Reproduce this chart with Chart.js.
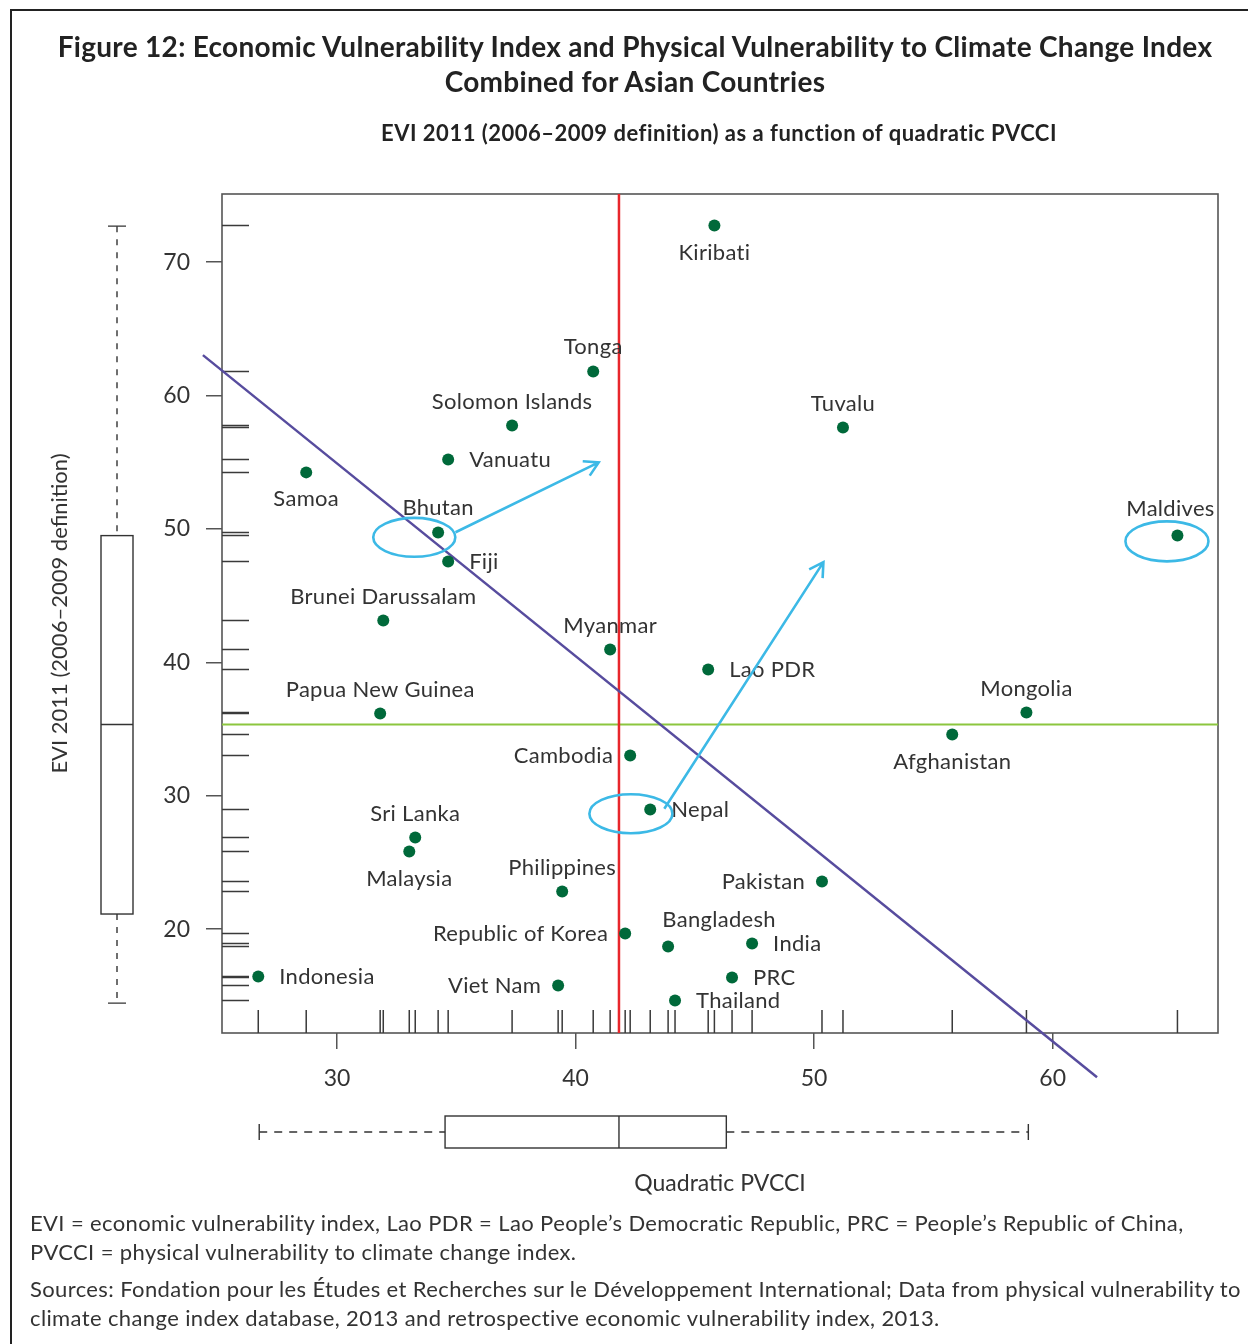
<!DOCTYPE html>
<html>
<head>
<meta charset="utf-8">
<script src="https://cdn.jsdelivr.net/npm/chart.js@4.4.1/dist/chart.umd.min.js"></script>
<style>
  html, body { margin: 0; padding: 0; background: #ffffff; }
  body { width: 1248px; height: 1344px; position: relative; overflow: hidden; font-family: Lato, "Open Sans", sans-serif; color: #333333; }
  #frame { position: absolute; left: 10px; top: 9px; width: 1300px; height: 1400px; border-top: 2px solid #222; border-left: 2px solid #222; box-sizing: border-box; }
  #chart { position: absolute; left: 0; top: 0; }
  .txt { position: absolute; white-space: nowrap; }
  #title { left: 0; width: 1270px; top: 29px; text-align: center; font-weight: 700; font-size: 28px; letter-spacing: 0.3px; line-height: 35px; color: #222; }
  #subtitle { left: 219px; width: 1000px; top: 120px; text-align: center; font-weight: 700; font-size: 22px; letter-spacing: 0.5px; line-height: 26px; color: #222; }
  .note { left: 30px; font-size: 22px; letter-spacing: 0.38px; line-height: 29px; color: #333; }
</style>
</head>
<body>
<div id="frame"></div>
<canvas id="chart" width="1248" height="1344"></canvas>
<div id="title" class="txt">Figure 12: Economic Vulnerability Index and Physical Vulnerability to Climate Change Index<br>Combined for Asian Countries</div>
<div id="subtitle" class="txt">EVI 2011 (2006–2009 definition) as a function of quadratic PVCCI</div>
<div class="txt note" style="top:1208px">EVI = economic vulnerability index, Lao PDR = Lao People’s Democratic Republic, PRC = People’s Republic of China,<br>PVCCI = physical vulnerability to climate change index.</div>
<div class="txt note" style="top:1274px">Sources: Fondation pour les Études et Recherches sur le Développement International; Data from physical vulnerability to<br>climate change index database, 2013 and retrospective economic vulnerability index, 2013.</div>
<script>
// ---------------- data ----------------
const countries = ['Kiribati','Tonga','Solomon Islands','Tuvalu','Vanuatu','Samoa','Bhutan','Maldives','Fiji',
  'Brunei Darussalam','Myanmar','Lao PDR','Papua New Guinea','Mongolia','Afghanistan','Cambodia','Nepal',
  'Sri Lanka','Malaysia','Pakistan','Philippines','Republic of Korea','Bangladesh','India','Indonesia','PRC',
  'Viet Nam','Thailand'];
const pvcci = [45.82, 40.74, 37.34, 51.21, 34.66, 28.71, 34.24, 65.23, 34.66,
  31.94, 41.45, 45.56, 31.81, 58.90, 55.79, 42.29, 43.13,
  33.28, 33.03, 50.33, 39.44, 42.08, 43.88, 47.40, 26.70, 46.56,
  39.27, 44.17];
const evi = [72.75, 61.81, 57.76, 57.61, 55.21, 54.24, 49.74, 49.51, 47.56,
  43.14, 40.96, 39.46, 36.16, 36.24, 34.59, 33.02, 28.97,
  26.87, 25.82, 23.57, 22.82, 19.67, 18.70, 18.92, 16.45, 16.37,
  15.77, 14.65];
// where each label sits relative to its point
const labelSide = ['below','above','above','above','right','below','above','aboveLeft','right',
  'above','above','right','above','above','below','left','right',
  'above','below','left','above','left','aboveRight','right','right','right',
  'left','right'];

const xTicks = [30, 40, 50, 60];
const yTicks = [20, 30, 40, 50, 60, 70];
const xRange = [25.18, 66.93];
const yRange = [12.21, 75.11];

const medianPVCCI = 41.82;
const medianEVI = 35.34;
const fitLineX = [24.38, 61.86];
const fitLineY = [63.03, 8.89];

// boxplot five-number summaries: [low whisker, Q1, median, Q3, high whisker]
const boxPVCCI = [26.74, 34.53, 41.82, 46.32, 58.98];
const boxEVI = [14.45, 21.13, 35.34, 49.50, 72.70];

// highlight ellipses (Bhutan, Maldives, Nepal)
const ellipseX = [33.24, 64.79, 42.32];
const ellipseY = [49.37, 49.07, 28.65];
const ellipseRX = [1.72, 1.74, 1.74];
const ellipseRY = [1.46, 1.50, 1.46];

// arrows
const arrowFromX = [34.97, 43.72];
const arrowFromY = [49.75, 29.02];
const arrowToX = [40.97, 50.39];
const arrowToY = [54.99, 47.51];

// ---------------- styling ----------------
const FONT = 'Lato, "Open Sans", sans-serif';
const TEXT = '#333333';
const AXIS = '#555555';
const CYAN = '#3cb9e6';

const decor = {
  id: 'decor',
  beforeDatasetsDraw(chart) {
    const {ctx, chartArea: a, scales: {x, y}} = chart;
    ctx.save();
    // plot box
    ctx.strokeStyle = AXIS; ctx.lineWidth = 1.6;
    ctx.strokeRect(a.left, a.top, a.right - a.left, a.bottom - a.top);
    // rug marks
    ctx.strokeStyle = '#3a3a3a'; ctx.lineWidth = 1.5;
    ctx.beginPath();
    pvcci.forEach(v => { const px = x.getPixelForValue(v); ctx.moveTo(px, a.bottom); ctx.lineTo(px, a.bottom - 23); });
    evi.forEach(v => { const py = y.getPixelForValue(v); ctx.moveTo(a.left, py); ctx.lineTo(a.left + 27, py); });
    ctx.stroke();

    // left (vertical) boxplot for EVI
    ctx.strokeStyle = '#333'; ctx.lineWidth = 1.4;
    const bx = 117, bw = 16, cap = 9;
    const [lo, q1, md, q3, hi] = boxEVI.map(v => y.getPixelForValue(v));
    ctx.strokeRect(bx - bw, q3, 2 * bw, q1 - q3);
    ctx.beginPath(); ctx.moveTo(bx - bw, md); ctx.lineTo(bx + bw, md);
    ctx.moveTo(bx - cap, hi); ctx.lineTo(bx + cap, hi);
    ctx.moveTo(bx - cap, lo); ctx.lineTo(bx + cap, lo); ctx.stroke();
    ctx.setLineDash([6, 7]);
    ctx.beginPath(); ctx.moveTo(bx, hi); ctx.lineTo(bx, q3); ctx.moveTo(bx, q1); ctx.lineTo(bx, lo); ctx.stroke();
    ctx.setLineDash([]);

    // bottom (horizontal) boxplot for PVCCI
    const by = 1132;
    const [xl, xq1, xmd, xq3, xh] = boxPVCCI.map(v => x.getPixelForValue(v));
    ctx.strokeRect(xq1, by - bw, xq3 - xq1, 2 * bw);
    ctx.beginPath(); ctx.moveTo(xmd, by - bw); ctx.lineTo(xmd, by + bw);
    ctx.moveTo(xl, by - 8); ctx.lineTo(xl, by + 8);
    ctx.moveTo(xh, by - 8); ctx.lineTo(xh, by + 8); ctx.stroke();
    ctx.setLineDash([8, 7]);
    ctx.beginPath(); ctx.moveTo(xl, by); ctx.lineTo(xq1, by); ctx.moveTo(xq3, by); ctx.lineTo(xh, by); ctx.stroke();
    ctx.setLineDash([]);
    ctx.restore();
  },
  afterDatasetsDraw(chart) {
    const {ctx, scales: {x, y}} = chart;
    ctx.save();
    // point labels
    ctx.font = '22px ' + FONT; ctx.fillStyle = TEXT;
    if ('letterSpacing' in ctx) ctx.letterSpacing = '0.3px';
    countries.forEach((name, i) => {
      const px = x.getPixelForValue(pvcci[i]), py = y.getPixelForValue(evi[i]);
      const side = labelSide[i];
      ctx.textBaseline = 'middle';
      if (side === 'above') { ctx.textAlign = 'center'; ctx.fillText(name, px, py - 24); }
      else if (side === 'aboveLeft') { ctx.textAlign = 'center'; ctx.fillText(name, px - 7, py - 27); }
      else if (side === 'aboveRight') { ctx.textAlign = 'center'; ctx.fillText(name, px + 51, py - 27); }
      else if (side === 'below') { ctx.textAlign = 'center'; ctx.fillText(name, px, py + 27); }
      else if (side === 'right') { ctx.textAlign = 'left'; ctx.fillText(name, px + 21, py); }
      else { ctx.textAlign = 'right'; ctx.fillText(name, px - 17, py); }
    });
    // ellipses
    ctx.strokeStyle = CYAN; ctx.lineWidth = 2.6;
    ellipseX.forEach((cx, i) => {
      const px = x.getPixelForValue(cx), py = y.getPixelForValue(ellipseY[i]);
      const rx = x.getPixelForValue(cx + ellipseRX[i]) - px;
      const ry = py - y.getPixelForValue(ellipseY[i] + ellipseRY[i]);
      ctx.beginPath(); ctx.ellipse(px, py, rx, ry, 0, 0, Math.PI * 2); ctx.stroke();
    });
    // arrows
    arrowFromX.forEach((fx, i) => {
      const x1 = x.getPixelForValue(fx), y1 = y.getPixelForValue(arrowFromY[i]);
      const x2 = x.getPixelForValue(arrowToX[i]), y2 = y.getPixelForValue(arrowToY[i]);
      const ang = Math.atan2(y2 - y1, x2 - x1), L = 16, sp = Math.PI / 6;
      ctx.beginPath(); ctx.moveTo(x1, y1); ctx.lineTo(x2, y2);
      ctx.moveTo(x2 - L * Math.cos(ang - sp), y2 - L * Math.sin(ang - sp));
      ctx.lineTo(x2, y2);
      ctx.lineTo(x2 - L * Math.cos(ang + sp), y2 - L * Math.sin(ang + sp));
      ctx.stroke();
    });
    ctx.restore();
  }
};

new Chart(document.getElementById('chart'), {
  type: 'scatter',
  data: {
    datasets: [
      { label: 'Countries', data: countries.map((c, i) => ({x: pvcci[i], y: evi[i]})),
        backgroundColor: '#00693a', borderWidth: 0, pointRadius: 6, pointHoverRadius: 6, order: 0 },
      { type: 'line', label: 'Fit', data: fitLineX.map((v, i) => ({x: v, y: fitLineY[i]})),
        borderColor: '#574c9e', borderWidth: 2.5, pointRadius: 0, clip: false, order: 1 },
      { type: 'line', label: 'Median PVCCI', data: [{x: medianPVCCI, y: yRange[0]}, {x: medianPVCCI, y: yRange[1]}],
        borderColor: '#e8262b', borderWidth: 2.5, pointRadius: 0, order: 2 },
      { type: 'line', label: 'Median EVI', data: [{x: xRange[0], y: medianEVI}, {x: xRange[1], y: medianEVI}],
        borderColor: '#8cc63f', borderWidth: 2.2, pointRadius: 0, order: 3 }
    ]
  },
  options: {
    responsive: false, animation: false, events: [],
    layout: { padding: { left: 0, top: 194, right: 30, bottom: 147 } },
    plugins: { legend: { display: false }, tooltip: { enabled: false } },
    scales: {
      x: {
        type: 'linear', min: xRange[0], max: xRange[1],
        afterFit(s) { s.height = 164; },
        afterBuildTicks(s) { s.ticks = xTicks.map(v => ({value: v})); },
        grid: { drawOnChartArea: false, drawTicks: true, tickLength: 16, color: AXIS, lineWidth: 1.5 },
        border: { display: false },
        ticks: { font: { family: FONT, size: 23 }, color: TEXT, padding: 16, callback: v => v },
        title: { display: true, text: 'Quadratic PVCCI', font: { family: FONT, size: 23 }, color: TEXT, padding: 0 }
      },
      y: {
        type: 'linear', min: yRange[0], max: yRange[1],
        afterFit(s) { s.width = 222; },
        afterBuildTicks(s) { s.ticks = yTicks.map(v => ({value: v})); },
        grid: { drawOnChartArea: false, drawTicks: true, tickLength: 16, color: AXIS, lineWidth: 1.5 },
        border: { display: false },
        ticks: { font: { family: FONT, size: 23 }, color: TEXT, padding: 16, callback: v => v },
        title: { display: true, text: 'EVI 2011 (2006–2009 definition)', font: { family: FONT, size: 22 }, color: TEXT, padding: { top: 47, bottom: 0 } }
      }
    }
  },
  plugins: [decor]
});
</script>
</body>
</html>
